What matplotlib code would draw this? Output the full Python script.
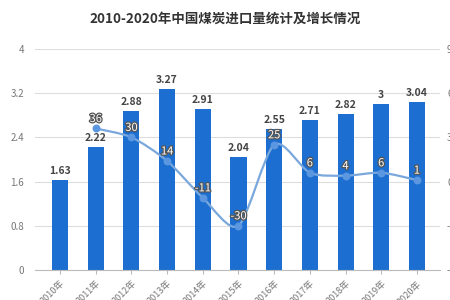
import numpy as np
import matplotlib
matplotlib.use("Agg")
import matplotlib.pyplot as plt
import matplotlib.patheffects as pe
from matplotlib.path import Path
from matplotlib.patches import PathPatch

plt.rcParams['font.family'] = ['Noto Sans CJK SC', 'DejaVu Sans']

years = ['2010年', '2011年', '2012年', '2013年', '2014年', '2015年',
         '2016年', '2017年', '2018年', '2019年', '2020年']
imports = [1.63, 2.22, 2.88, 3.27, 2.91, 2.04, 2.55, 2.71, 2.82, 3, 3.04]
growth = [36, 30, 14, -11, -30, 25, 6, 4, 6, 1]   # 2011-2020
left_ticks = [0, 0.8, 1.6, 2.4, 3.2, 4]
right_ticks = [-60, -30, 0, 30, 60, 90]

bar_color = '#1c6fd0'
line_color = '#7aa7dc'
grey = '#777777'

fig = plt.figure(figsize=(4.5, 3), dpi=100)
ax = fig.add_axes([0.078, 0.1, 0.9, 0.737])
x = np.arange(len(years))

ax.bar(x, imports, width=0.45, color=bar_color, zorder=2)
for xi, v in zip(x, imports):
    ax.text(xi, v + 0.07, f"{v:g}", ha='center', va='bottom', fontsize=7.5,
            fontweight='bold', color='#444444')

ax.set_ylim(0, 4)
ax.set_xlim(-0.7, 10.65)
ax.set_yticks(left_ticks)
ax.set_yticklabels([f"{t:g}" for t in left_ticks])
ax.grid(axis='y', color='#dddddd', linewidth=0.8, zorder=0)
ax.set_xticks(x)
ax.set_xticklabels(years, rotation=45, ha='right', rotation_mode='anchor')
ax.tick_params(axis='x', labelsize=6.5, colors=grey, length=3, color='#bbbbbb')
ax.tick_params(axis='y', labelsize=7, colors=grey, length=0, pad=8)
for s in ['top', 'right', 'left']:
    ax.spines[s].set_visible(False)
ax.spines['bottom'].set_color('#bbbbbb')
ax.set_ylabel('单位：亿吨', fontsize=6, color=grey, labelpad=8)

ax2 = ax.twinx()
ax2.set_ylim(-60, 90)
ax2.set_yticks(right_ticks)
ax2.tick_params(axis='y', labelsize=7, colors=grey, length=0, pad=5)
for s in ax2.spines.values():
    s.set_visible(False)

# smooth line through the growth points (cubic bezier, catmull-rom style)
gx = x[1:].astype(float)
gy = np.array(growth, dtype=float)
verts = [(gx[0], gy[0])]
codes = [Path.MOVETO]
for i in range(len(gx) - 1):
    p0 = np.array([gx[max(i - 1, 0)], gy[max(i - 1, 0)]])
    p1 = np.array([gx[i], gy[i]])
    p2 = np.array([gx[i + 1], gy[i + 1]])
    p3 = np.array([gx[min(i + 2, len(gx) - 1)], gy[min(i + 2, len(gx) - 1)]])
    c1 = p1 + (p2 - p0) / 6 * 0.8
    c2 = p2 - (p3 - p1) / 6 * 0.8
    verts += [tuple(c1), tuple(c2), tuple(p2)]
    codes += [Path.CURVE4] * 3
ax2.add_patch(PathPatch(Path(verts, codes), facecolor='none',
                        edgecolor=line_color, linewidth=1.6, zorder=3))
ax2.scatter(gx, gy, s=22, color='#5b96e0', zorder=4)
for xi, v in zip(gx, gy):
    ax2.text(xi, v + 3, f"{v:g}", ha='center', va='bottom', fontsize=8,
             color='white', zorder=5,
             path_effects=[pe.withStroke(linewidth=1.8, foreground='#555555')])

fig.text(0.5, 0.925, '2010-2020年中国煤炭进口量统计及增长情况', ha='center',
         fontsize=9.7, fontweight='bold', color='#333333')

fig.savefig('out.png', dpi=100)
